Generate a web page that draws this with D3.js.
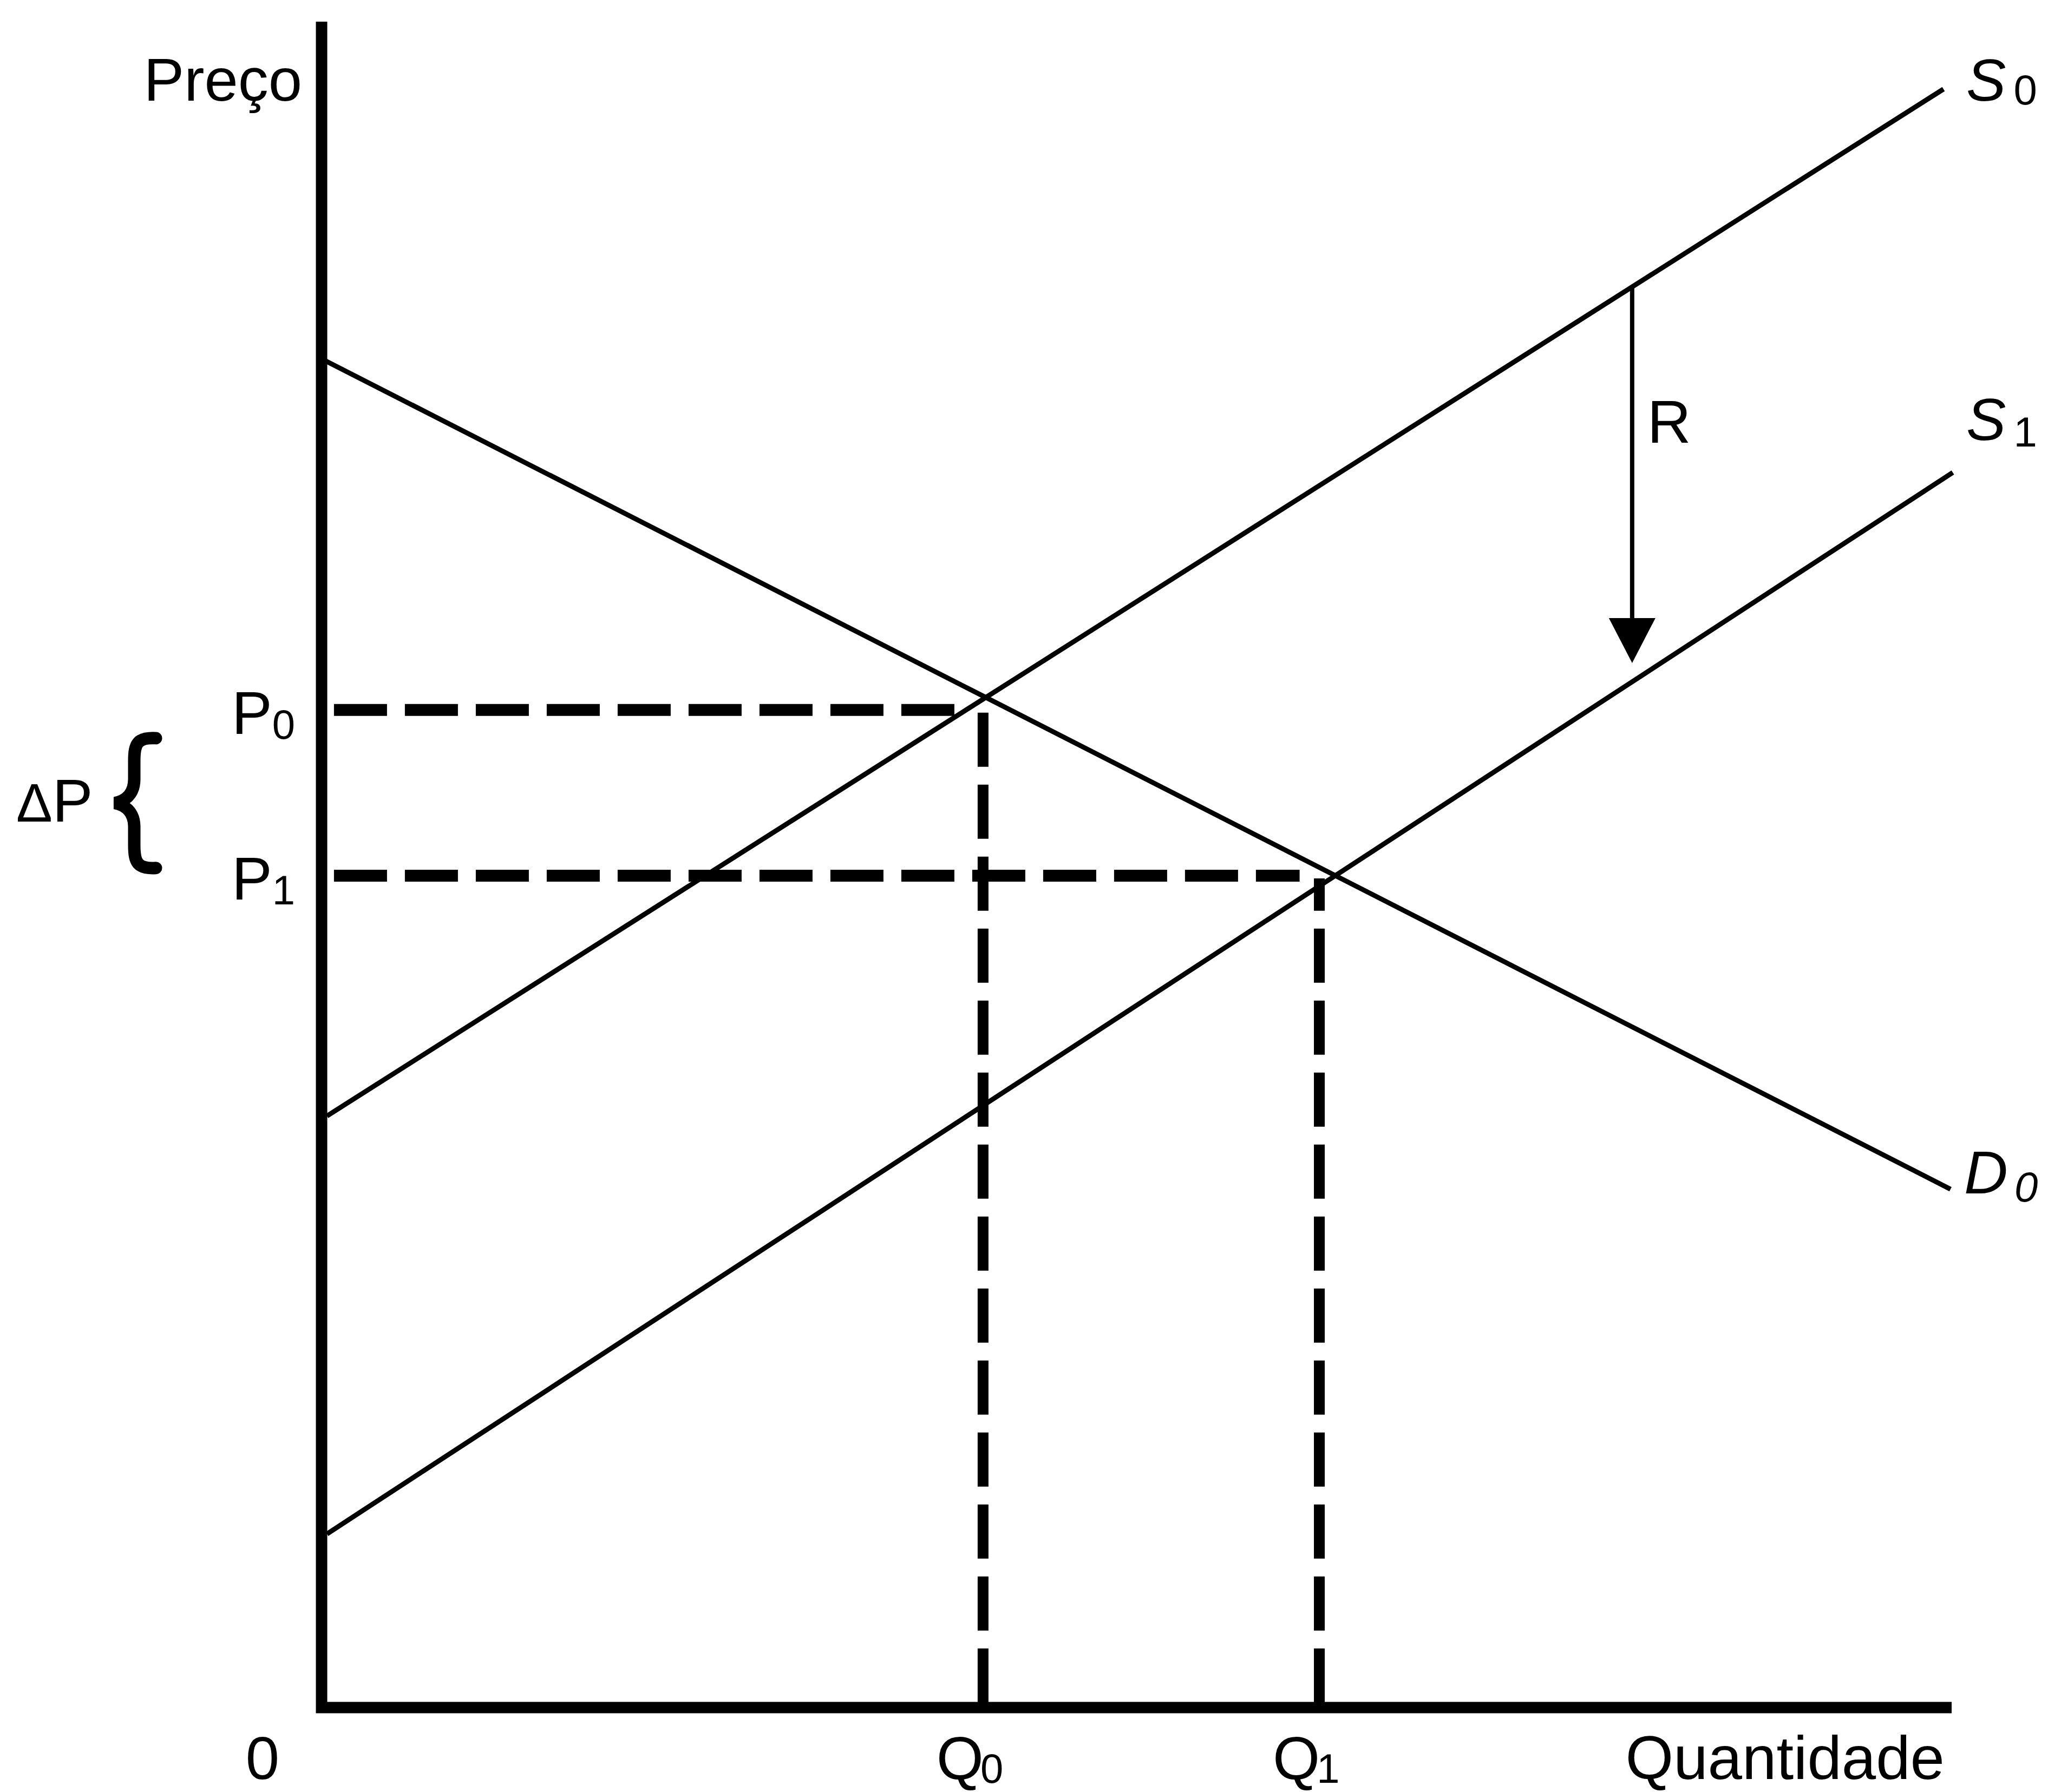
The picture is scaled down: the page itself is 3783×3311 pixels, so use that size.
<!DOCTYPE html>
<html>
<head>
<meta charset="utf-8">
<script src="https://cdn.jsdelivr.net/npm/d3@7"></script>
<style>
  body { margin: 0; background: #fff; }
  text { font-family: "Liberation Sans", Arial, sans-serif; fill: #000; }
</style>
</head>
<body>
<script>
// valeurs (quantité 0-100, prix 0-100)
var demandD0 = [[0, 80.0], [99.93, 30.75]];
var supplyS0 = [[0.33, 35.09], [99.5, 96.0]];
var supplyS1 = [[0.33, 10.3], [100.07, 73.26]];

var priceLevels = [59.17, 49.34];        // P0, P1
var priceDashEnd = [39.4, 60.0];         // fin des pointillés horizontaux
var quantityLevels = [40.58, 61.21];     // Q0, Q1
var quantityDashTop = [59.55, 49.18];    // haut des pointillés verticaux
var levelSubs = ["0", "1"];

var arrowR = { q: 80.4, from: 84.27, to: 61.96 };
var braceRange = [57.5, 49.8];

var width = 3783, height = 3311;
var bottomLine = 3287;

var svg = d3.select("body")
  .append("svg")
  .attr("width", width)
  .attr("height", height);

svg.append("rect").attr("width", width).attr("height", height).attr("fill", "#fff");

// Echelles
var x = d3.scaleLinear().domain([0, 100]).range([594, 3605]);
var y = d3.scaleLinear().domain([0, 100]).range([3155, 40]);

var line = d3.line().x(d => x(d[0])).y(d => y(d[1]));

// axes
svg.append("path")
  .attr("d", line([[0, 100], [0, 0], [100, 0]]))
  .attr("fill", "none")
  .attr("stroke", "#000")
  .attr("stroke-width", 21)
  .attr("stroke-linejoin", "miter");

// courbes d'offre et de demande
var curves = [demandD0, supplyS0, supplyS1];
svg.selectAll("path.curve")
  .data(curves)
  .enter().append("path")
  .attr("class", "curve")
  .attr("d", d => line(d))
  .attr("fill", "none")
  .attr("stroke", "#000")
  .attr("stroke-width", 9);

// pointillés horizontaux (prix)
svg.selectAll("path.hdash")
  .data(priceLevels)
  .enter().append("path")
  .attr("class", "hdash")
  .attr("d", (d, i) => line([[0.76, d], [priceDashEnd[i], d]]))
  .attr("stroke", "#000")
  .attr("stroke-width", 22)
  .attr("stroke-dasharray", "98,33");

// pointillés verticaux (quantités), tracés depuis l'axe
svg.selectAll("path.vdash")
  .data(quantityLevels)
  .enter().append("path")
  .attr("class", "vdash")
  .attr("d", (d, i) => line([[d, 0.3], [d, quantityDashTop[i]]]))
  .attr("stroke", "#000")
  .attr("stroke-width", 20)
  .attr("stroke-dasharray", "100,33");

// flèche R
var ax = x(arrowR.q), aTop = y(arrowR.from), aTip = y(arrowR.to);
var headH = 83, headW = 86;
svg.append("path")
  .attr("d", "M" + ax + "," + aTop + "V" + (aTip - headH + 4))
  .attr("stroke", "#000")
  .attr("stroke-width", 8);
svg.append("path")
  .attr("d", "M" + (ax - headW / 2) + "," + (aTip - headH) + "L" + (ax + headW / 2) + "," + (aTip - headH) + "L" + ax + "," + aTip + "Z")
  .attr("fill", "#000");

svg.append("text")
  .attr("x", ax + 28).attr("y", aTop + 288)
  .attr("font-size", 112)
  .text("R");

// accolade du ΔP
var bT = y(braceRange[0]), bB = y(braceRange[1]), bM = (bT + bB) / 2;
var bR = 288, bC = 248, bL = 212;
var brace = d3.path();
brace.moveTo(bR, bT);
brace.bezierCurveTo(bC + 6, bT - 2, bC, bT + 10, bC, bT + 42);
brace.lineTo(bC, bM - 44);
brace.bezierCurveTo(bC, bM - 14, bC - 20, bM - 3, bL, bM);
brace.bezierCurveTo(bC - 20, bM + 3, bC, bM + 14, bC, bM + 44);
brace.lineTo(bC, bB - 42);
brace.bezierCurveTo(bC, bB - 10, bC + 6, bB + 2, bR, bB);
svg.append("path")
  .attr("d", brace.toString())
  .attr("fill", "none")
  .attr("stroke", "#000")
  .attr("stroke-width", 23)
  .attr("stroke-linecap", "round")
  .attr("stroke-linejoin", "miter");

svg.append("text")
  .attr("x", 30).attr("y", bM + 34)
  .attr("font-size", 112)
  .html('<tspan font-size="100">Δ</tspan>P');

// étiquettes des prix
svg.selectAll("text.plab")
  .data(priceLevels)
  .enter().append("text")
  .attr("class", "plab")
  .attr("x", 545)
  .attr("y", d => y(d) + 44)
  .attr("text-anchor", "end")
  .attr("font-size", 112)
  .html((d, i) => 'P<tspan font-size="76" dy="9">' + levelSubs[i] + '</tspan>');

// étiquettes des quantités
svg.selectAll("text.qlab")
  .data(quantityLevels)
  .enter().append("text")
  .attr("class", "qlab")
  .attr("x", d => x(d) - 86)
  .attr("y", bottomLine)
  .attr("font-size", 112)
  .html((d, i) => 'Q<tspan font-size="76" dx="-6" dy="7">' + levelSubs[i] + '</tspan>');

svg.append("text")
  .attr("x", x(0) - 109).attr("y", bottomLine)
  .attr("text-anchor", "middle")
  .attr("font-size", 112)
  .text("0");

svg.append("text")
  .attr("x", 3592).attr("y", bottomLine)
  .attr("text-anchor", "end")
  .attr("font-size", 114)
  .text("Quantidade");

svg.append("text")
  .attr("x", 558).attr("y", 186)
  .attr("text-anchor", "end")
  .attr("font-size", 112)
  .text("Preço");

// noms des courbes
svg.append("text")
  .attr("x", 3632).attr("y", 186)
  .attr("font-size", 110)
  .html('<tspan font-style="italic">S</tspan><tspan font-size="78" dx="14" dy="7">0</tspan>');

svg.append("text")
  .attr("x", 3632).attr("y", 813)
  .attr("font-size", 110)
  .html('<tspan font-style="italic">S</tspan><tspan font-size="78" dx="14" dy="12">1</tspan>');

svg.append("text")
  .attr("x", 3628).attr("y", 2205)
  .attr("font-size", 112)
  .attr("font-style", "italic")
  .html('D<tspan font-size="78" dx="12" dy="15">0</tspan>');
</script>
</body>
</html>
